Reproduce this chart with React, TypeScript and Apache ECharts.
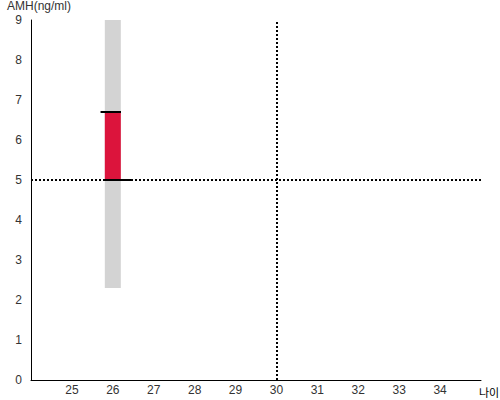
import React, { useEffect, useRef } from "react";
import * as echarts from "echarts";

const xRange = [24, 35];
const yRange = [0, 9];
const rangeBar = [[26, 2.3, 9]];
const valueBar = [[26, 5, 6.7]];
const upperMark = [[25.7, 6.7], [26.2, 6.7]];
const lowerMark = [[25.78, 5], [26.46, 5]];
const refAge = 30;
const refAmh = 5;

function makeBar(data: number[][], color: string) {
  return {
    type: "custom",
    data,
    renderItem: (params: any, api: any) => {
      const x = api.value(0);
      const lo = api.coord([x, api.value(1)]);
      const hi = api.coord([x, api.value(2)]);
      return {
        type: "rect",
        shape: { x: lo[0] - 8, y: hi[1], width: 16, height: lo[1] - hi[1] },
        style: { fill: color },
      };
    },
    silent: true,
  };
}

export default function App() {
  const ref = useRef<HTMLDivElement>(null);
  useEffect(() => {
    const chart = echarts.init(ref.current!, null, { renderer: "svg" });
    chart.setOption({
      animation: false,
      grid: { left: 31, right: 19, top: 20, bottom: 20, containLabel: false, outerBoundsMode: "none" },
      xAxis: {
        type: "value",
        min: xRange[0],
        max: xRange[1],
        interval: 1,
        name: "나이",
        nameGap: -2,
        nameTextStyle: { fontSize: 11, color: "#000", verticalAlign: "top", padding: [7, 0, 0, 0], fontFamily: "Noto Sans CJK KR" },
        axisLine: { lineStyle: { color: "#000", width: 1 } },
        axisTick: { show: false },
        splitLine: { show: false },
        axisLabel: {
          color: "#333",
          fontSize: 12,
          fontFamily: "Liberation Sans",
          margin: 4,
          formatter: (v: number) => (v === xRange[0] || v === xRange[1] ? "" : String(v)),
        },
      },
      yAxis: {
        type: "value",
        min: yRange[0],
        max: yRange[1],
        interval: 1,
        name: "AMH(ng/ml)",
        nameGap: 8,
        nameTextStyle: { fontSize: 12, color: "#333", fontFamily: "Liberation Sans", padding: [0, 0, 0, 16] },
        axisLine: { show: true, lineStyle: { color: "#000", width: 1 } },
        axisTick: { show: false },
        splitLine: { show: false },
        axisLabel: { color: "#333", fontSize: 12, fontFamily: "Liberation Sans", margin: 9 },
      },
      series: [
        makeBar(rangeBar, "#d3d3d3"),
        makeBar(valueBar, "#dc143c"),
        {
          type: "line",
          data: upperMark,
          symbol: "none",
          lineStyle: { color: "#000", width: 2 },
          silent: true,
          z: 5,
        },
        {
          type: "line",
          data: lowerMark,
          symbol: "none",
          lineStyle: { color: "#000", width: 2 },
          silent: true,
          z: 5,
          markLine: {
            symbol: "none",
            silent: true,
            label: { show: false },
            lineStyle: { color: "#000", type: "dotted", width: 2 },
            data: [{ xAxis: refAge }, { yAxis: refAmh }],
          },
        },
      ],
    });
    return () => chart.dispose();
  }, []);
  return <div ref={ref} style={{ width: 500, height: 400, position: "absolute", left: 0, top: 0 }} />;
}
